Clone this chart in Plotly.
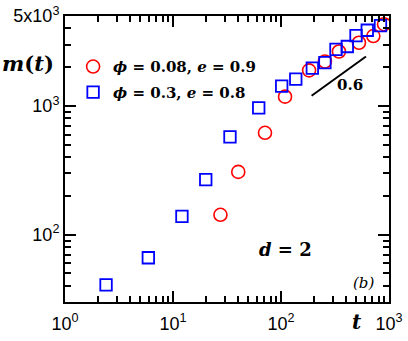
import plotly.graph_objects as go

# data (log-log)
t_red = [27.5, 40.2, 71.1, 109, 182, 255, 344, 527, 716, 899]
m_red = [142.7, 307.6, 619, 1181, 1891, 2215, 2650, 3097, 3494, 4318]

t_blue = [2.40, 5.91, 12.1, 20.1, 33.7, 62.2, 101.5, 137, 195, 255, 323, 411, 495, 629, 834]
m_blue = [40.8, 66.2, 139, 268, 576, 965, 1425, 1614, 1966, 2175, 2756, 2898, 3516, 3875, 4206]

# guide line with slope 0.6
t_guide = [192, 612]
m_guide = [1202, 2423]

x_tickvals = [1, 10, 100, 1000]
x_ticktext = ["10<sup>0</sup>", "10<sup>1</sup>", "10<sup>2</sup>", "10<sup>3</sup>"]
y_tickvals = [100, 1000, 5000]
y_ticktext = ["10<sup>2</sup>", "10<sup>3</sup>", "5x10<sup>3</sup>"]

x_minor = [k * 10 ** p for p in range(0, 3) for k in range(2, 10)]
y_minor = [k * 10 ** p for p in range(1, 4) for k in range(2, 10) if 30 <= k * 10 ** p <= 5000]

serif = "DejaVu Serif"

fig = go.Figure()

fig.add_trace(go.Scatter(
    x=t_red, y=m_red, mode="markers", legendgroup="red",
    name="<b><i>ϕ</i> = 0.08, <i>e</i> = 0.9</b>",
    marker=dict(symbol="circle-open", size=13, color="#ff0000", line=dict(width=1.6)),
))
fig.add_trace(go.Scatter(
    x=t_blue, y=m_blue, mode="markers", legendgroup="blue",
    name="<b><i>ϕ</i> = 0.3, <i>e</i> = 0.8</b>",
    marker=dict(symbol="square-open", size=11.5, color="#0000ff", line=dict(width=1.8)),
))
fig.add_trace(go.Scatter(
    x=t_guide, y=m_guide, mode="lines", showlegend=False,
    line=dict(color="black", width=2),
))

axis_common = dict(
    type="log", showline=True, linewidth=2, linecolor="black", mirror="allticks",
    ticks="inside", ticklen=11, tickwidth=1.5, tickcolor="black",
    showgrid=False, zeroline=False, automargin=False,
    tickfont=dict(family="Liberation Sans", size=18, color="black"),
)

fig.update_xaxes(
    **axis_common, range=[0, 3], tickmode="array",
    tickvals=x_tickvals, ticktext=x_ticktext, ticklabelstandoff=4,
    minor=dict(tickmode="array", tickvals=x_minor, ticks="inside", ticklen=6,
               tickwidth=1.5, tickcolor="black", showgrid=False),
)
fig.update_yaxes(
    **axis_common, range=[1.4771, 3.699], tickmode="array",
    tickvals=y_tickvals, ticktext=y_ticktext,
    minor=dict(tickmode="array", tickvals=y_minor, ticks="inside", ticklen=6,
               tickwidth=1.5, tickcolor="black", showgrid=False),
)

# text placed by pixel position in the 408x341 picture
annots = [
    dict(text="<b><i>m</i>(<i>t</i>)</b>", x=28, y=63, size=21),
    dict(text="<b><i>t</i></b>", x=357, y=322, size=20),
    dict(text="<b><i>d</i> = 2</b>", x=285, y=249, size=18),
    dict(text="<i>(b)</i>", x=363, y=283, size=15),
    dict(text="<b>0.6</b>", x=350, y=85, size=15),
]
for a in annots:
    fig.add_annotation(
        text=a["text"], xref="paper", yref="paper",
        x=(a["x"] - 65) / 324, y=(302 - a["y"]) / 286,
        xanchor="center", yanchor="middle", showarrow=False,
        font=dict(family=serif, size=a["size"], color="black"),
    )

fig.update_layout(
    width=408, height=341,
    margin=dict(l=65, r=19, t=16, b=39),
    plot_bgcolor="white", paper_bgcolor="white",
    legend=dict(
        x=0.025, y=0.88, xanchor="left", yanchor="top",
        bgcolor="rgba(0,0,0,0)", itemwidth=30, tracegroupgap=3,
        font=dict(family=serif, size=15, color="black"),
    ),
)

# page has a default 8px body margin; drop it so the figure sits at the corner
fig.write_html("out.html", config={"displayModeBar": False},
               post_script="document.body.style.margin='0';")
